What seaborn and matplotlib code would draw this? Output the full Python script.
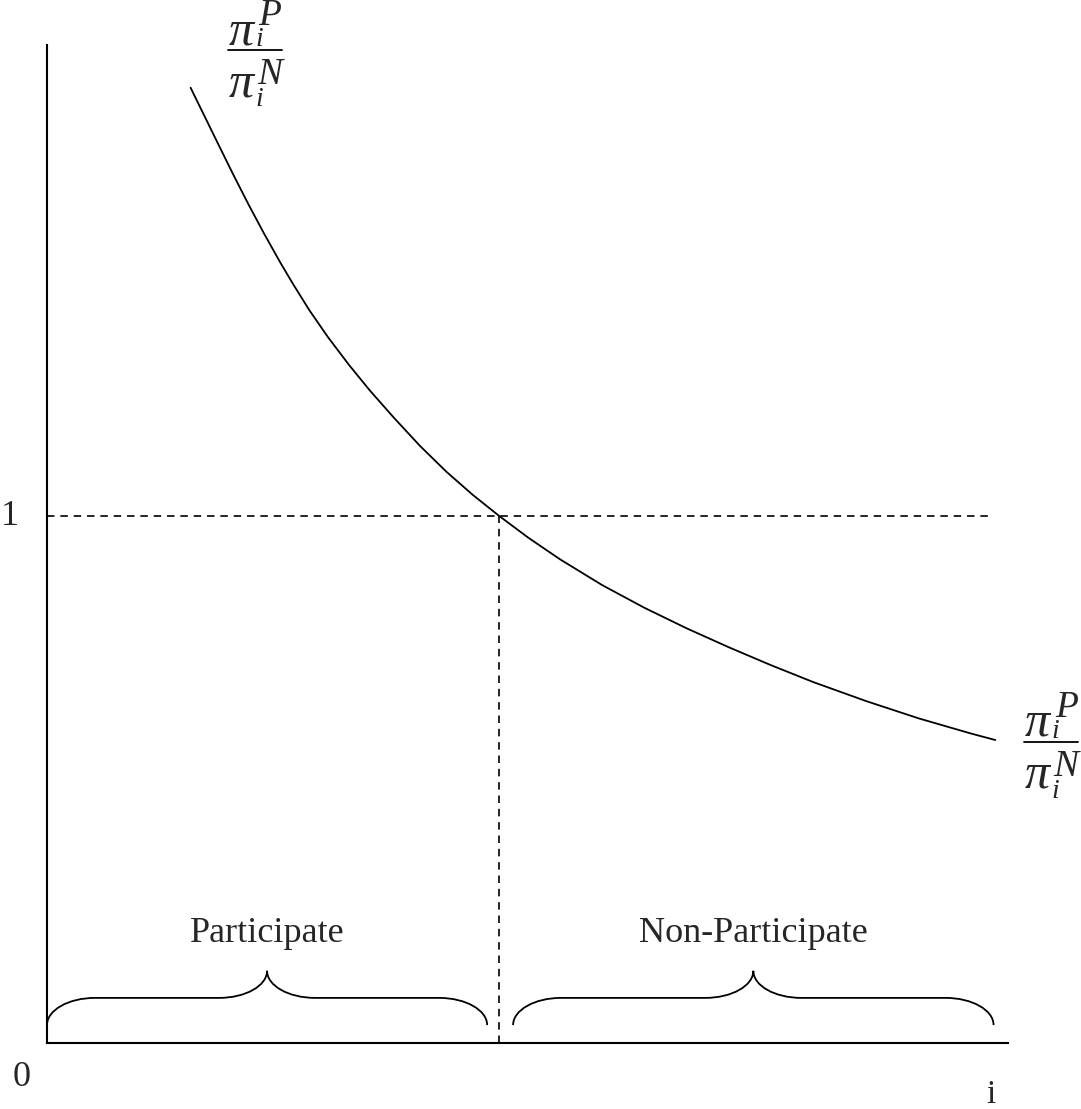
import numpy as np
import pandas as pd
import seaborn as sns
import matplotlib.pyplot as plt
from matplotlib.path import Path
from matplotlib.patches import PathPatch
from matplotlib.transforms import offset_copy

# DATA (x: share of i on a 0-100 scale, y: ratio pi_P / pi_N)
curve_x = [14.94, 17.68, 19.33, 20.98, 22.62, 24.28, 25.65, 27.29, 29.22, 31.42,
           33.61, 36.08, 38.82, 41.57, 44.32, 47.07, 50.08, 53.38, 57.77, 62.16,
           66.56, 70.95, 75.34, 79.73, 85.22, 90.72, 96.21, 98.68]
curve_y = [1.813, 1.711, 1.650, 1.591, 1.535, 1.481, 1.439, 1.391, 1.340, 1.287,
           1.238, 1.187, 1.133, 1.084, 1.040, 1.000, 0.959, 0.918, 0.869, 0.826,
           0.787, 0.751, 0.717, 0.685, 0.649, 0.616, 0.587, 0.575]
threshold_x = 47.03
threshold_y = 1.0
hline_end = 98.1
group_labels = ["Participate", "Non-Participate"]
group_spans = [(0.0, 45.8), (48.5, 98.5)]
# fraction labels: (x, y) of the fraction bar
ratio_pos = [(21.65, 1.884), (104.5, 0.572)]

sns.set_theme(style="white")
plt.rcParams["font.family"] = ["Liberation Serif", "DejaVu Serif"]

fig = plt.figure(figsize=(10.81, 11.09), dpi=100)
ax = fig.add_axes([47 / 1081, 1 - 1043 / 1109, (1008 - 47) / 1081, (1043 - 45) / 1109])

df = pd.DataFrame({"x": curve_x, "y": curve_y})
sns.lineplot(data=df, x="x", y="y", sort=False, estimator=None, color="black",
             lw=1.3, ax=ax, clip_on=False)

ax.set_xlim(0, 100)
ax.set_ylim(0, 1.894)

dash = (0, (4.5, 3.5))
ax.plot([0, hline_end], [threshold_y, threshold_y], color="black", lw=1.2, ls=dash)
ax.plot([threshold_x, threshold_x], [0, threshold_y], color="black", lw=1.2, ls=dash)


def brace(ax, xa, xb, y_tip=0.034, y_flat=0.0856, y_top=0.137, w=5.0):
    xm = (xa + xb) / 2
    k = 0.552
    verts = [
        (xa, y_tip),
        (xa, y_tip + k * (y_flat - y_tip)), (xa + w * (1 - k), y_flat), (xa + w, y_flat),
        (xm - w, y_flat),
        (xm - w + k * w, y_flat), (xm, y_top - k * (y_top - y_flat)), (xm, y_top),
        (xm, y_top - k * (y_top - y_flat)), (xm + w - k * w, y_flat), (xm + w, y_flat),
        (xb - w, y_flat),
        (xb - w * (1 - k), y_flat), (xb, y_tip + k * (y_flat - y_tip)), (xb, y_tip),
    ]
    codes = ([Path.MOVETO] + [Path.CURVE4] * 3 + [Path.LINETO] + [Path.CURVE4] * 6
             + [Path.LINETO] + [Path.CURVE4] * 3)
    ax.add_patch(PathPatch(Path(verts, codes), fill=False, lw=1.3, ec="black"))
    return xm


def ratio(ax, x, y):
    # pi_i^P over pi_i^N, pieces placed in pixel offsets from the bar centre
    parts = [("π", -14, 6, 36), ("i", 4, 4, 20), ("P", 15, 25, 27),
             ("π", -14, -46, 36), ("i", 4, -56, 20), ("N", 15, -34, 27)]
    for s, dx, dy, fs in parts:
        tr = offset_copy(ax.transData, fig=ax.figure, x=dx, y=dy, units="dots")
        ax.text(x, y, s, transform=tr, ha="center", va="baseline", fontsize=fs,
                style="italic", clip_on=False)
    half = 27 / 9.61
    ax.plot([x - half, x + half], [y, y], color="black", lw=1.3, clip_on=False)


for lab, (xa, xb) in zip(group_labels, group_spans):
    xm = brace(ax, xa, xb)
    ax.text(xm, 0.192, lab, ha="center", va="baseline", fontsize=26)

ax.text(-3.85, 1.0, "1", ha="center", va="center", fontsize=26, clip_on=False)
ax.text(-2.6, -0.065, "0", ha="center", va="center", fontsize=26, clip_on=False)
ax.text(98.2, -0.114, "i", ha="center", va="baseline", fontsize=24, clip_on=False)

for px, py in ratio_pos:
    ratio(ax, px, py)

sns.despine(ax=ax)
for s in ["left", "bottom"]:
    ax.spines[s].set_color("black")
    ax.spines[s].set_linewidth(1.5)
ax.set_xticks([])
ax.set_yticks([])
ax.set_xlabel("")
ax.set_ylabel("")

fig.savefig("out.png", dpi=100)
